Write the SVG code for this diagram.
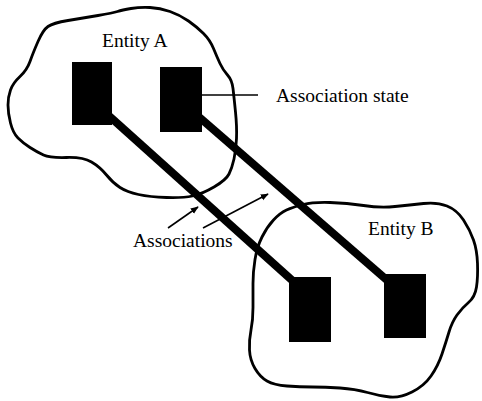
<svg xmlns="http://www.w3.org/2000/svg" width="482" height="401" viewBox="0 0 482 401">
  <style>
    .blob { fill: #fff; stroke: #000; stroke-width: 2.8; stroke-linejoin: round; }
    .state { fill: #000; }
    .label { font-family: "Liberation Serif", "Times New Roman", serif; font-size: 19.5px; fill: #000; }
    .assoc { stroke: #000; stroke-width: 8; stroke-linecap: butt; fill: none; }
    .thin { stroke: #000; stroke-width: 1.6; fill: none; }
  </style>
  <defs>
    <marker id="arrow" viewBox="0 0 10 10" refX="9" refY="5" markerWidth="8" markerHeight="8" markerUnits="userSpaceOnUse" orient="auto">
      <path d="M0,1 L10,5 L0,9 Z" fill="#000"/>
    </marker>
  </defs>

  <!-- Entity A: cloud outline with two association states -->
  <g id="entity-a">
    <path class="blob" d="M98,15.5 Q113,13 117.5,11.5 Q122,10 131,8.5 Q140,7 150,7.5 Q160,8 170,11.5 Q180,15 188.5,21 Q197,27 203.5,33.5 Q210,40 213.5,48.5 Q217,57 220,63.5 Q223,70 227.5,75 Q232,80 233,88.5 Q234,97 235.5,112 Q237,127 236.5,138.5 Q236,150 234,159 Q232,168 229,174 Q226,180 214,187 Q202,194 192.5,196 Q183,198 166.5,197.5 Q150,197 138.5,194.5 Q127,192 120,187.5 Q113,183 106.5,175 Q100,167 91.5,162 Q83,157 66.5,157.5 Q50,158 43.5,155 Q37,152 30,147.5 Q23,143 18,138 Q13,133 10.5,123 Q8,113 8,105 Q8,97 10.5,90 Q13,83 20,76.5 Q27,70 30,61.5 Q33,53 38,41.5 Q43,30 48,26.5 Q53,23 68,20.5 Q83,18 98,15.5 Z"/>
    <text class="label" x="102" y="47">Entity A</text>
    <rect id="state-a1" class="state" x="72" y="62" width="40" height="63"/>
    <rect id="state-a2" class="state" x="160" y="67" width="42" height="65"/>
  </g>

  <!-- Entity B: cloud outline with two association states -->
  <g id="entity-b">
    <path class="blob" d="M303,204.5 Q313,202 330,202.5 Q347,203 363.5,205.5 Q380,208 395,206.5 Q410,205 423.5,203.5 Q437,202 447,206 Q457,210 463.5,220 Q470,230 473.5,240 Q477,250 477.5,263.5 Q478,277 476.5,287 Q475,297 468.5,302.5 Q462,308 457,315 Q452,322 449,332 Q446,342 442,354 Q438,366 431,376 Q424,386 412,392 Q400,398 390,397 Q380,396 367.5,392.5 Q355,389 340,388 Q325,387 312.5,387 Q300,387 287,386 Q274,385 267,381 Q260,377 255,368.5 Q250,360 249.5,350 Q249,340 251,330 Q253,320 253,307.5 Q253,295 253,283.5 Q253,272 255,259.5 Q257,247 262,237 Q267,227 273.5,220 Q280,213 286.5,210 Q293,207 303,204.5 Z"/>
    <text class="label" x="368" y="235">Entity B</text>
    <rect id="state-b1" class="state" x="289" y="277" width="42" height="65"/>
    <rect id="state-b2" class="state" x="384" y="274" width="42" height="64"/>
  </g>

  <!-- Associations and callouts -->
  <g id="connectors">
    <line class="assoc" x1="108" y1="115" x2="294" y2="282"/>
    <line class="assoc" x1="199" y1="117" x2="388" y2="281"/>
    <line class="thin" x1="202" y1="95" x2="258" y2="95"/>
    <line class="thin" x1="168" y1="228" x2="198" y2="207" marker-end="url(#arrow)"/>
    <line class="thin" x1="203" y1="228" x2="268" y2="194" marker-end="url(#arrow)"/>
  </g>

  <text class="label" x="276" y="102">Association state</text>
  <text class="label" x="133" y="247">Associations</text>
</svg>
